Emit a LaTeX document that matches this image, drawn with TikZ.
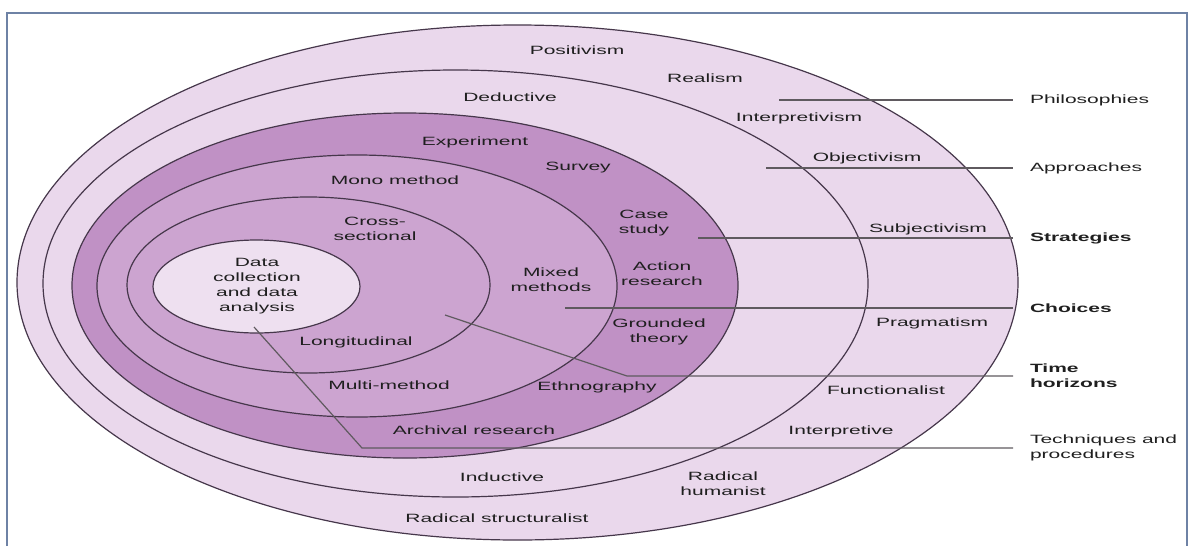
\documentclass[tikz,border=0pt]{standalone}
\usepackage{fontspec}
\setmainfont{Liberation Sans}[FakeStretch=1.75]
\usepackage{tikz}
\usetikzlibrary{calc}
\usetikzlibrary{positioning}

\definecolor{ringlight}{RGB}{234,216,236}
\definecolor{ringmid}{RGB}{204,164,208}
\definecolor{ringdark}{RGB}{192,145,197}
\definecolor{corelight}{RGB}{238,224,240}
\definecolor{edge}{RGB}{70,55,75}
\definecolor{leader}{RGB}{95,90,95}
\definecolor{frame}{RGB}{110,130,165}

\tikzset{
  layer/.style={align=center, inner sep=1pt, text=black!88,
    font=\fontsize{6pt}{7.5pt}\selectfont},
  tag/.style={anchor=west, align=left, inner sep=0pt, outer sep=8.5pt,
    text=black!88, font=\fontsize{6pt}{7.5pt}\selectfont},
  tagbold/.style={tag, font=\fontsize{6pt}{7.5pt}\selectfont\bfseries}
}

\begin{document}
\begin{tikzpicture}[x=0.5pt,y=-0.5pt]
      \useasboundingbox (0,0) rectangle (1192,546);
      % frame
      \draw[frame, line width=0.9pt] (7,546) -- (7,13) -- (1187,13) -- (1187,546);

      % rings, outside in
      \foreach \cx/\cy/\rx/\ry/\col in {
          517.5/282.5/500.5/257.5/ringlight,
          455.5/283.5/412.5/213.5/ringlight,
          405/285.5/333/172.5/ringdark,
          357/286/260/131/ringmid,
          308.5/285/181.5/88/ringmid,
          256.5/286.5/103.5/46.5/corelight}
      \filldraw[fill=\col, draw=edge, line width=0.6pt]
        (\cx,\cy) ellipse [x radius=\rx, y radius=\ry];

      % philosophies ring
      \node[layer] (positivism) at (577,50) {Positivism};
      \node[layer] (realism) at (705,78) {Realism};
      \node[layer] (interpretivism) at (799,118) {Interpretivism};
      \node[layer] (objectivism) at (867,158) {Objectivism};
      \node[layer] (subjectivism) at (928,229) {Subjectivism};
      \node[layer] (pragmatism) at (932,323) {Pragmatism};
      \node[layer] (functionalist) at (886,390) {Functionalist};
      \node[layer] (interpretive) at (841,431) {Interpretive};
      \node[layer] (humanist) at (723,484) {Radical\\humanist};
      \node[layer] (structuralist) at (497,518) {Radical structuralist};

      % approaches ring
      \node[layer] (deductive) at (510,97) {Deductive};
      \node[layer] (inductive) at (502,477) {Inductive};

      % strategies ring
      \node[layer] (experiment) at (475,142) {Experiment};
      \node[layer] (survey) at (578,168) {Survey};
      \node[layer] (casestudy) at (644,223) {Case\\study};
      \node[layer] (action) at (662,274) {Action\\research};
      \node[layer] (grounded) at (659,332) {Grounded\\theory};
      \node[layer] (ethnography) at (597,387) {Ethnography};
      \node[layer] (archival) at (474,430) {Archival research};

      % choices ring
      \node[layer] (mono) at (395,180) {Mono method};
      \node[layer] (mixed) at (551,280) {Mixed\\methods};
      \node[layer] (multi) at (389,385) {Multi-method};

      % time horizons ring
      \node[layer] (cross) at (375,229) {Cross-\\sectional};
      \node[layer] (longitudinal) at (356,342) {Longitudinal};

      % core
      \node[layer] (core) at (257,286) {Data\\collection\\and data\\analysis};

      % layer names on the right
      \node[tag] (philo) at (1013,100) {Philosophies};
      \node[tag] (approach) at (1013,168) {Approaches};
      \node[tagbold] (strategy) at (1013,238) {Strategies};
      \node[tagbold] (choice) at (1013,308) {Choices};
      \node[tagbold] (horizon) at (1013,376) {Time\\horizons};
      \node[tag] (technique) at (1013,448) {Techniques and\\procedures};

      % leader lines
      \coordinate (philo-pt) at (779,100);
      \coordinate (approach-pt) at (766,168);
      \coordinate (strategy-pt) at (698,238);
      \coordinate (choice-pt) at (565,308);
      \coordinate (horizon-pt) at (445,315);
      \coordinate (horizon-bend) at (627,376);
      \coordinate (technique-pt) at (254,327);
      \coordinate (technique-bend) at (362,448);
      \draw[leader, line width=0.6pt] (philo-pt) -- (philo);
      \draw[leader, line width=0.6pt] (approach-pt) -- (approach);
      \draw[leader, line width=0.6pt] (strategy-pt) -- (strategy);
      \draw[leader, line width=0.6pt] (choice-pt) -- (choice);
      \draw[leader, line width=0.6pt] (horizon-pt) -- (horizon-bend) -- (horizon);
      \draw[leader, line width=0.6pt] (technique-pt) -- (technique-bend) -- (technique);
    \end{tikzpicture}
\end{document}
